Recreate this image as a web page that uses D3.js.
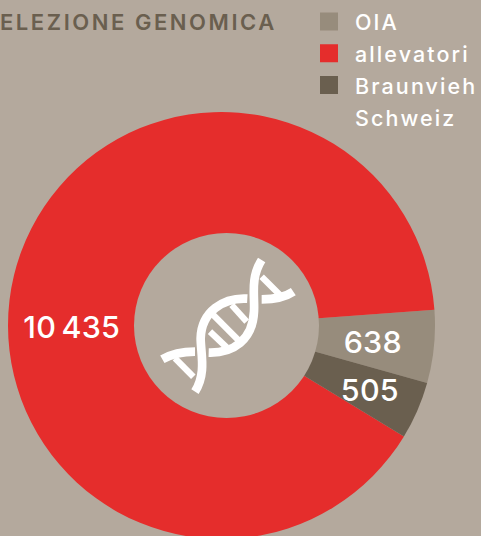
<!DOCTYPE html>
<html>
<head>
<meta charset="utf-8">
<script src="https://cdn.jsdelivr.net/npm/d3@7"></script>
<style>
  html, body { margin: 0; padding: 0; background: #b4a99d; overflow: hidden; }
  text { font-family: Inter, "Liberation Sans", Arial, sans-serif; }
</style>
</head>
<body>
<div id="chart"></div>
<script>
var categories = ["OIA", "allevatori", "Braunvieh Schweiz"];
var values = [638, 10435, 505];
var valueLabels = ["638", "10\u2009435", "505"];
var legendLines = [["OIA"], ["allevatori"], ["Braunvieh", "Schweiz"]];
var colours = ["#978c7c", "#e52d2c", "#6a5f4f"];
var title = "ELEZIONE GENOMICA"; // as visible, the reference crop loses the first letter

var width = 481,
    height = 536;

var cx = 221.5,
    cy = 325.5,
    outerR = 213.5;

// the hole is not concentric in the original, it sits a few px to the right
var holeX = 226.5,
    holeR = 92.5;

var svg = d3.select("#chart").append("svg")
    .attr("width", width)
    .attr("height", height)
    .style("display", "block");

svg.append("text")
    .attr("x", 0)
    .attr("y", 29.5)
    .attr("fill", "#6a5f4f")
    .style("font-size", "22px")
    .style("font-weight", "600")
    .style("letter-spacing", "2.55px")
    .text(title);

// default pie sort (descending) gives the clockwise order allevatori, OIA, Braunvieh
var startDeg = 121.3;
var pie = d3.pie()
    .value(function(d) { return d.value; })
    .startAngle(startDeg * Math.PI / 180)
    .endAngle((startDeg + 360) * Math.PI / 180);

var rows = categories.map(function(c, i) {
    return { name: c, value: values[i], label: valueLabels[i], colour: colours[i] };
});

var arc = d3.arc().innerRadius(0).outerRadius(outerR);

var g = svg.append("g")
    .attr("transform", "translate(" + cx + "," + cy + ")");

g.selectAll("path")
    .data(pie(rows))
    .enter().append("path")
    .attr("d", arc)
    .attr("fill", function(d) { return d.data.colour; });

svg.append("circle")
    .attr("cx", holeX)
    .attr("cy", cy)
    .attr("r", holeR)
    .attr("fill", "#b4a99d");

// value labels start from the ring middle, nudged for each slice
var labelOffset = { "OIA": [-1, 12.3], "Braunvieh Schweiz": [8, 14.5], "allevatori": [-1, 48.5] };
var labelArc = d3.arc().innerRadius(153).outerRadius(153);

g.selectAll(".val")
    .data(pie(rows))
    .enter().append("text")
    .attr("class", "val")
    .attr("text-anchor", "middle")
    .attr("fill", "#fff")
    .style("font-size", "30.5px")
    .style("font-weight", "500")
    .style("letter-spacing", "0.2px")
    .attr("x", function(d) { return labelArc.centroid(d)[0] + labelOffset[d.data.name][0]; })
    .attr("y", function(d) { return labelArc.centroid(d)[1] + labelOffset[d.data.name][1]; })
    .text(function(d) { return d.data.label; });

// legend
var legend = svg.append("g");
var legendY = d3.scalePoint().domain(categories).range([21.5, 85]);

legend.selectAll("rect")
    .data(categories)
    .enter().append("rect")
    .attr("x", 320)
    .attr("y", function(d) { return legendY(d) - 9; })
    .attr("width", 18)
    .attr("height", 18)
    .attr("fill", function(d, i) { return colours[i]; });

legend.selectAll("text")
    .data(categories)
    .enter().append("text")
    .attr("fill", "#fff")
    .style("font-size", "21.5px")
    .style("font-weight", "500")
    .style("letter-spacing", "2.1px")
    .each(function(d, i) {
        var t = d3.select(this);
        legendLines[i].forEach(function(line, j) {
            t.append("tspan")
                .attr("x", 355)
                .attr("y", legendY(d) + 8.5 + j * 32)
                .text(line);
        });
    });

// dna icon, traced in zoomed-crop pixels (3x, origin 130,240)
var dna = svg.append("g")
    .attr("transform", "translate(130,240) scale(0.3333)")
    .attr("fill", "none")
    .attr("stroke", "#fff");

var strands = [
    "M395,60C360,115 375,170 372,215C368,300 310,340 236,338",
    "M195,455C230,400 212,340 212,295C214,215 280,172 352,176",
    "M395,178C430,178 465,172 490,155",
    "M195,335C160,335 125,342 97,358"
];
var rungs = [
    "M395,110L450,165", "M305,195L350,245", "M250,225L330,305",
    "M240,275L290,322", "M135,355L190,410"
];

dna.selectAll(".strand").data(strands).enter().append("path")
    .attr("class", "strand")
    .attr("d", function(d) { return d; })
    .attr("stroke-width", 26);

dna.selectAll(".rung").data(rungs).enter().append("path")
    .attr("class", "rung")
    .attr("d", function(d) { return d; })
    .attr("stroke-width", 19);
</script>
</body>
</html>
